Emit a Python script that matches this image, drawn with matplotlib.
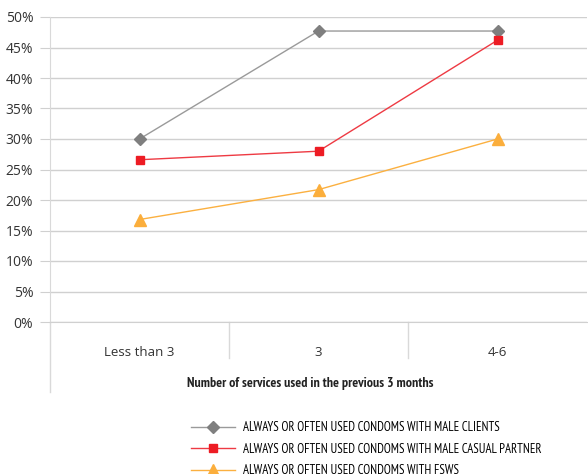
import matplotlib.pyplot as plt
import matplotlib.transforms as mtransforms
from matplotlib.ticker import PercentFormatter

# data
categories = ['Less than 3', '3', '4-6']
male_clients = [30.0, 47.7, 47.7]
male_casual = [26.6, 28.0, 46.2]
fsws = [16.8, 21.7, 30.0]
series_labels = [
    'ALWAYS OR OFTEN USED CONDOMS WITH MALE CLIENTS',
    'ALWAYS OR OFTEN USED CONDOMS WITH MALE CASUAL PARTNER',
    'ALWAYS OR OFTEN USED CONDOMS WITH FSWS',
]

W, H = 588, 474
fig = plt.figure(figsize=(W / 100, H / 100), dpi=100)
ax = fig.add_axes([50 / W, 1 - 322 / H, 537 / W, 305 / H])

x = range(len(categories))
ax.plot(x, male_clients, color='#9a9a9a', lw=1, marker='D', ms=6.5,
        mfc='#7f7f7f', mec='#7f7f7f', label=series_labels[0], zorder=3)
ax.plot(x, male_casual, color='#ee3a43', lw=1, marker='s', ms=5.5,
        mfc='#ed1c24', mec='#ed1c24', label=series_labels[1], zorder=3)
ax.plot(x, fsws, color='#fbb040', lw=1, marker='^', ms=8,
        mfc='#fbae3c', mec='#fbae3c', label=series_labels[2], zorder=3)

ax.set_xlim(-0.5, 2.5)
ax.set_ylim(0, 50)
ax.set_yticks(range(0, 51, 5))
ax.yaxis.set_major_formatter(PercentFormatter(decimals=0))
ax.grid(axis='y', color='#d0d0d0', lw=1)
ax.set_axisbelow(True)

for s in ['top', 'right']:
    ax.spines[s].set_visible(False)
ax.spines['left'].set_color('#d9d9d9')
ax.spines['bottom'].set_color('#d0d0d0')

ax.tick_params(axis='y', length=7, color='#d0d0d0', labelsize=10,
               labelcolor='#333333', pad=5)
ax.tick_params(axis='x', length=0, labelsize=9.5, labelcolor='#333333', pad=17)
ax.set_xticks(list(x))
ax.set_xticklabels(categories, fontfamily='Open Sans')
for lab in ax.get_yticklabels():
    lab.set_fontfamily('Open Sans')

# separators under the category axis and the extended left spine
trans = mtransforms.blended_transform_factory(ax.transData, ax.transAxes)
for xs in [0.5, 1.5]:
    ax.plot([xs, xs], [0, -36 / 305], transform=trans, color='#d9d9d9',
            lw=1, clip_on=False)
ax.plot([-0.5, -0.5], [0, -70 / 305], transform=trans, color='#d9d9d9',
        lw=1, clip_on=False)

ax.set_xlabel('Number of services used in the previous 3 months',
              fontfamily='PT Sans Narrow', fontweight='bold',
              fontsize=10, color='#222222')
ax.xaxis.set_label_coords(0.484, -61 / 305)
ax.xaxis.label.set_va('center')

fig.legend(loc='upper left', bbox_to_anchor=(186 / W, 1 - 416 / H),
           frameon=False, handlelength=3.4, handletextpad=0.65,
           labelspacing=0.68, borderaxespad=0,
           prop={'family': 'PT Sans Narrow', 'size': 9.2})

fig.savefig('out.png', dpi=100)
